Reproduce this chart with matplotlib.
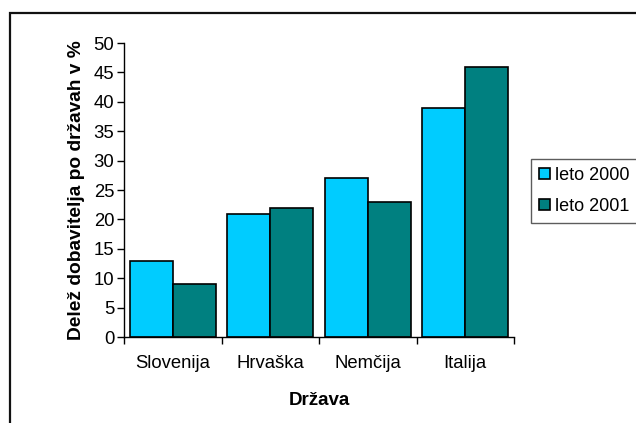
import matplotlib.pyplot as plt
import matplotlib.patches as mpatches
import numpy as np

plt.rcParams['font.family'] = ['Liberation Sans', 'DejaVu Sans']

# shares of suppliers per country, in %
countries = ['Slovenija', 'Hrvaška', 'Nemčija', 'Italija']
leto_2000 = [13, 21, 27, 39]
leto_2001 = [9, 22, 23, 46]
series_names = ['leto 2000', 'leto 2001']

cyan = '#00CCFF'
teal = '#008080'

W, H = 636, 423
fig = plt.figure(figsize=(W / 100, H / 100), dpi=100)

# chart-area frame, runs off the right and bottom edge
frame = mpatches.Rectangle((10 / W, -0.1), 1.2, 1 - 13 / H + 0.1,
                           transform=fig.transFigure, fill=False,
                           edgecolor='#111111', linewidth=1.6, zorder=0)
fig.patches.append(frame)

ax = fig.add_axes([124 / W, 1 - 337 / H, (514 - 124) / W, (337 - 43) / H])
ax.patch.set_alpha(0)

x = np.arange(len(countries))
bw = 0.44
ax.bar(x - bw / 2, leto_2000, bw, color=cyan, edgecolor='black', linewidth=1.2,
       label=series_names[0])
ax.bar(x + bw / 2, leto_2001, bw, color=teal, edgecolor='black', linewidth=1.2,
       label=series_names[1])

ax.set_xlim(-0.5, len(countries) - 0.5)
ax.set_ylim(0, 50)
ax.set_yticks(np.arange(0, 51, 5))

# ticks between the categories, labels in the middle
ax.set_xticks(np.arange(-0.5, len(countries), 1.0))
ax.set_xticklabels([])
ax.set_xticks(x, minor=True)
ax.set_xticklabels(countries, minor=True)
ax.tick_params(axis='x', which='major', length=5, width=1, direction='out')
ax.tick_params(axis='x', which='minor', length=0, pad=13, labelsize=13.3)
ax.tick_params(axis='y', length=5, width=1, direction='out', pad=2, labelsize=13.3)

for s in ['top', 'right']:
    ax.spines[s].set_visible(False)
for s in ['left', 'bottom']:
    ax.spines[s].set_linewidth(1)

ax.set_xlabel('Država', fontsize=13.5, fontweight='bold', labelpad=14)
ax.set_ylabel('Delež dobavitelja po državah v %', fontsize=13.8,
              fontweight='bold', labelpad=6)

leg = fig.legend(loc='upper left', bbox_to_anchor=(531 / W, 1 - 159 / H),
                 fontsize=13, frameon=True, fancybox=False,
                 handlelength=0.6, handleheight=0.6, handletextpad=0.3,
                 borderpad=0.45, labelspacing=0.75, borderaxespad=0)
leg.get_frame().set_edgecolor('#333333')
leg.get_frame().set_linewidth(1)

fig.savefig('out.png', dpi=100)
